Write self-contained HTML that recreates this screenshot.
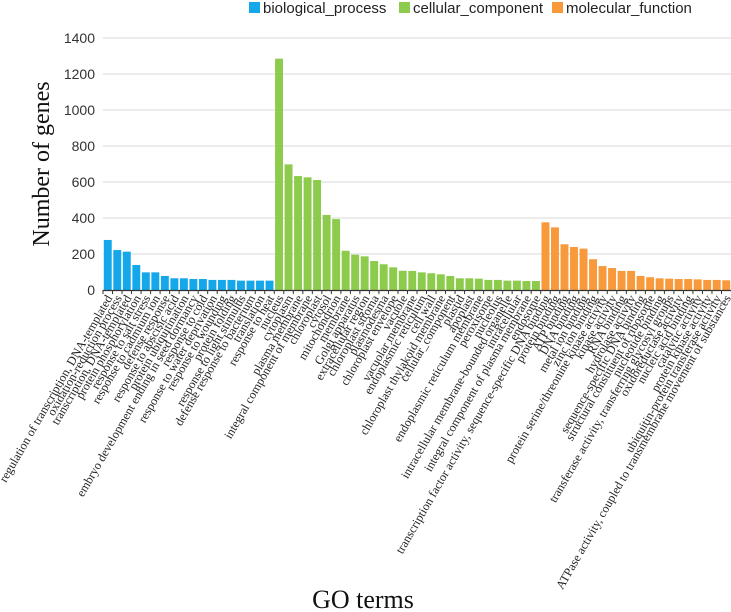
<!DOCTYPE html>
<html><head><meta charset="utf-8">
<style>
html,body{margin:0;padding:0;background:#fff;}
svg{display:block;}
</style></head>
<body>
<svg id="chart" width="731" height="612" viewBox="0 0 731 612" xmlns="http://www.w3.org/2000/svg">
  <g font-family="Liberation Sans, sans-serif" font-size="15" fill="#222">
    <g>
      <rect x="249" y="2" width="11" height="11" fill="#14a7ea"/>
      <text x="263" y="13">biological_process</text>
    </g>
    <g>
      <rect x="399" y="2" width="11" height="11" fill="#8dcb4c"/>
      <text x="413" y="13">cellular_component</text>
    </g>
    <g>
      <rect x="552" y="2" width="11" height="11" fill="#f89a3b"/>
      <text x="566" y="13">molecular_function</text>
    </g>
  </g>
  <g id="grid"></g>
  <g id="yticks"></g>
  <g id="bars"></g>
  <g id="xaxis"></g>
  <g id="xlabels"></g>
  <text transform="translate(49,164) rotate(-90)" text-anchor="middle" font-family="Liberation Serif, serif" font-size="24" fill="#111">Number of genes</text>
  <text x="363" y="608" text-anchor="middle" font-family="Liberation Serif, serif" font-size="26" fill="#111">GO terms</text>
</svg>
<script>
const bpTerms = ["regulation of transcription, DNA-templated","oxidation-reduction process","transcription, DNA-templated","protein phosphorylation","response to salt stress","response to cadmium ion","defense response","response to abscisic acid","protein ubiquitination","embryo development ending in seed dormancy","response to cold","response to water deprivation","response to wounding","protein folding","response to light stimulus","defense response to bacterium","translation","response to heat"];
const bpValues = [278,222,213,139,98,98,78,65,65,61,61,56,56,56,52,52,52,52];
const ccTerms = ["nucleus","cytoplasm","plasma membrane","integral component of membrane","chloroplast","cytosol","mitochondrion","membrane","Golgi apparatus","extracellular region","chloroplast stroma","plasmodesma","chloroplast envelope","vacuole","vacuolar membrane","endoplasmic reticulum","cell wall","chloroplast thylakoid membrane","cellular_component","plastid","apoplast","endoplasmic reticulum membrane","peroxisome","nucleolus","intracellular membrane-bounded organelle","intracellular","integral component of plasma membrane","endosome"];
const ccValues = [1285,698,633,626,611,417,394,218,196,187,161,143,126,107,106,98,93,87,78,65,65,63,56,56,52,52,50,50];
const mfTerms = ["transcription factor activity, sequence-specific DNA binding","protein binding","ATP binding","DNA binding","metal ion binding","zinc ion binding","protein serine/threonine kinase activity","kinase activity","RNA binding","hydrolase activity","sequence-specific DNA binding","structural constituent of ribosome","nucleotide binding","transferase activity, transferring glycosyl groups","oxidoreductase activity","nucleic acid binding","catalytic activity","protein kinase activity","ubiquitin-protein transferase activity","ATPase activity, coupled to transmembrane movement of substances"];
const mfValues = [376,348,254,239,230,171,133,122,106,106,78,71,65,63,61,61,59,56,56,54];
const yTicks = [0,200,400,600,800,1000,1200,1400];

const NS = "http://www.w3.org/2000/svg";
const X0 = 103, X1 = 731, Y0 = 290, YTOP = 38, YMAX = 1400;
const all = [];
bpTerms.forEach((t,i)=>all.push({t, v:bpValues[i], c:"#14a7ea", g:"bp"}));
ccTerms.forEach((t,i)=>all.push({t, v:ccValues[i], c:"#8dcb4c", g:"cc"}));
mfTerms.forEach((t,i)=>all.push({t, v:mfValues[i], c:"#f89a3b", g:"mf"}));
const step = (X1 - X0) / all.length;
function xPos(i){ return X0 + i*step; }
function yPos(v){ return Y0 - (v/YMAX)*(Y0-YTOP); }
function mk(tag, attrs, parent){ const e=document.createElementNS(NS,tag); for(const k in attrs) e.setAttribute(k,attrs[k]); parent.appendChild(e); return e; }

const grid = document.getElementById('grid');
const yt = document.getElementById('yticks');
yTicks.forEach(v=>{
  const y = yPos(v);
  if (v>0){
    const l = mk('line',{x1:X0,x2:X1,y1:y,y2:y,stroke:'#d9d9d9','stroke-width':1},grid);
    
    
  }
  const t = mk('text',{x:95,y:y+5,'text-anchor':'end','font-family':'Liberation Sans, sans-serif','font-size':14,fill:'#333'},yt);
  
  
  t.textContent = v;
});

const bars = document.getElementById('bars');
const xl = document.getElementById('xlabels');
const xa = document.getElementById('xaxis');
all.forEach((d,i)=>{
  const x = xPos(i), y = yPos(d.v);
  const r = mk('rect',{x:x+0.8,y:y,width:step-1.6,height:Y0-y,fill:d.c},bars);
  
  
  const cx = x + step/2;
  const tk = mk('line',{x1:x,x2:x,y1:Y0,y2:Y0+4,stroke:'#333','stroke-width':1},xa);
  
  
  const t = mk('text',{transform:`translate(${cx+5},${Y0+8}) rotate(-60)`,'text-anchor':'end','font-family':'Liberation Serif, serif','font-size':12.3,fill:'#222'},xl);
  
  
  t.textContent = d.t;
});
const ax = mk('line',{x1:X0,x2:X1,y1:Y0+0.5,y2:Y0+0.5,stroke:'#333','stroke-width':1.2},xa);


</script>
</body></html>
